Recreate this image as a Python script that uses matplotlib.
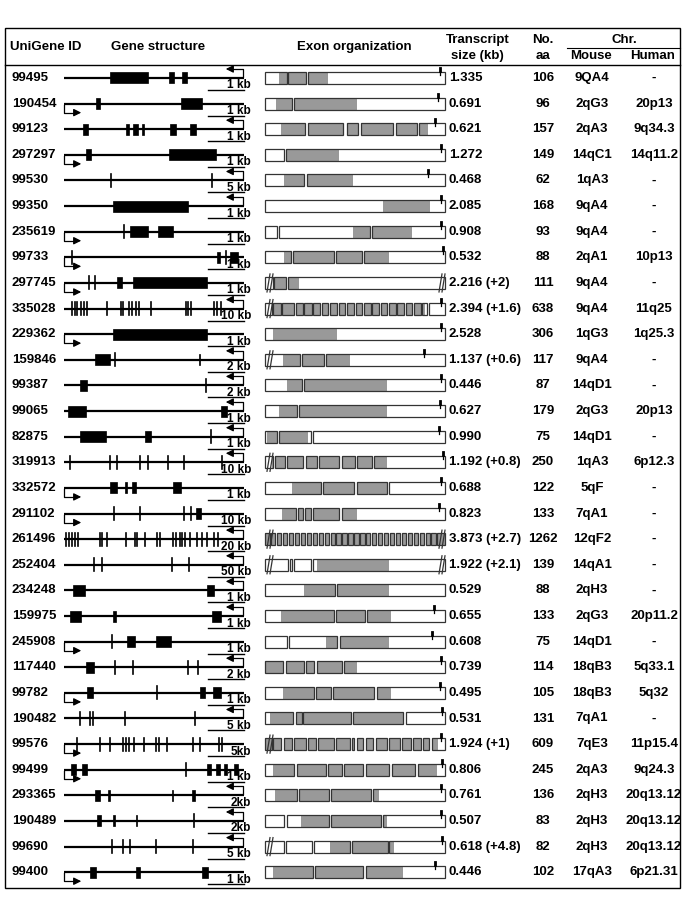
import matplotlib
matplotlib.use('Agg')
import matplotlib.pyplot as plt
from matplotlib.patches import Rectangle

plt.rcParams['font.family'] = ['Liberation Sans', 'DejaVu Sans']
plt.rcParams['font.weight'] = 'bold'

# ---- data ----
unigene_ids = ['99495', '190454', '99123', '297297', '99530', '99350', '235619', '99733',
               '297745', '335028', '229362', '159846', '99387', '99065', '82875', '319913',
               '332572', '291102', '261496', '252404', '234248', '159975', '245908', '117440',
               '99782', '190482', '99576', '99499', '293365', '190489', '99690', '99400']

transcript_size = ['1.335', '0.691', '0.621', '1.272', '0.468', '2.085', '0.908', '0.532',
                   '2.216 (+2)', '2.394 (+1.6)', '2.528', '1.137 (+0.6)', '0.446', '0.627',
                   '0.990', '1.192 (+0.8)', '0.688', '0.823', '3.873 (+2.7)', '1.922 (+2.1)',
                   '0.529', '0.655', '0.608', '0.739', '0.495', '0.531', '1.924 (+1)', '0.806',
                   '0.761', '0.507', '0.618 (+4.8)', '0.446']

n_aa = [106, 96, 157, 149, 62, 168, 93, 88, 111, 638, 306, 117, 87, 179, 75, 250,
        122, 133, 1262, 139, 88, 133, 75, 114, 105, 131, 609, 245, 136, 83, 82, 102]

chr_mouse = ['9QA4', '2qG3', '2qA3', '14qC1', '1qA3', '9qA4', '9qA4', '2qA1', '9qA4', '9qA4',
             '1qG3', '9qA4', '14qD1', '2qG3', '14qD1', '1qA3', '5qF', '7qA1', '12qF2', '14qA1',
             '2qH3', '2qG3', '14qD1', '18qB3', '18qB3', '7qA1', '7qE3', '2qA3', '2qH3', '2qH3',
             '2qH3', '17qA3']

chr_human = ['-', '20p13', '9q34.3', '14q11.2', '-', '-', '-', '10p13', '-', '11q25',
             '1q25.3', '-', '-', '20p13', '-', '6p12.3', '-', '-', '-', '-', '-', '20p11.2',
             '-', '5q33.1', '5q32', '-', '11p15.4', '9q24.3', '20q13.12', '20q13.12',
             '20q13.12', '6p21.31']

scale_labels = ['1 kb', '1 kb', '1 kb', '1 kb', '5 kb', '1 kb', '1 kb', '1 kb', '1 kb', '10 kb',
                '1 kb', '2 kb', '2 kb', '1 kb', '1 kb', '10 kb', '1 kb', '10 kb', '20 kb', '50 kb',
                '1 kb', '1 kb', '1 kb', '2 kb', '1 kb', '5 kb', '5kb', '1 kb', '2kb', '2kb',
                '5 kb', '1 kb']

# F = transcription to the right, R = to the left
strand = ['R', 'F', 'R', 'F', 'R', 'R', 'F', 'F', 'F', 'R', 'F', 'R', 'R', 'R', 'R', 'R',
          'F', 'F', 'R', 'R', 'R', 'R', 'F', 'R', 'F', 'R', 'F', 'F', 'R', 'R', 'R', 'F']

# exons on the genomic line (fraction of line); single numbers are thin exons
gene_exons = [
    [(0.254, 0.469), (0.583, 0.611), (0.657, 0.685)],
    [(0.176, 0.2), (0.648, 0.765)],
    [(0.107, 0.133), (0.343, 0.361), (0.385, 0.411), (0.435, 0.444), (0.589, 0.62), (0.698, 0.731)],
    [(0.12, 0.152), (0.583, 0.843)],
    [0.26, 0.824],
    [(0.272, 0.691)],
    [0.331, (0.367, 0.467), (0.522, 0.604)],
    [0.047, (0.852, 0.867), 0.9, (0.922, 0.969)],
    [0.14, 0.173, (0.293, 0.32), (0.385, 0.796)],
    [0.046, 0.059, 0.074, 0.093, 0.111, 0.13, 0.237, 0.315, 0.328, 0.359, 0.38, 0.398, 0.417,
     0.485, 0.676, 0.691, 0.707, 0.833, 0.852, 0.874],
    [(0.272, 0.796)],
    [(0.172, 0.256), 0.285, (0.748, 0.756)],
    [(0.089, 0.126), 0.787],
    [(0.022, 0.124), (0.874, 0.904)],
    [(0.089, 0.231), (0.45, 0.481), 0.815],
    [0.033, 0.254, 0.296, 0.422, 0.467, 0.58, 0.667, 0.876],
    [(0.256, 0.296), (0.337, 0.352), (0.38, 0.398), (0.607, 0.648)],
    [0.278, 0.422, 0.667, 0.707, (0.731, 0.759)],
    [0.013, 0.028, 0.043, 0.059, 0.078, 0.198, 0.209, 0.237, 0.346, 0.393, 0.407, 0.448, 0.519,
     0.531, 0.606, 0.62, 0.643, 0.657, 0.672, 0.698, 0.737, 0.765, 0.796, 0.833, 0.857],
    [0.167, 0.213, 0.602, 0.694],
    [(0.052, 0.115), (0.796, 0.833)],
    [(0.033, 0.093), (0.274, 0.291), (0.82, 0.87)],
    [0.266, (0.352, 0.393), (0.513, 0.593)],
    [(0.12, 0.167), 0.285, 0.385, 0.691, 0.744],
    [(0.126, 0.159), 0.519, (0.754, 0.783), (0.83, 0.87)],
    [0.089, 0.144, 0.159, 0.339, 0.726],
    [0.074, 0.198, 0.256, 0.328, 0.343, 0.361, 0.389, 0.444, 0.513, 0.528, 0.574, 0.719, 0.754,
     0.861, 0.876],
    [(0.041, 0.065), (0.102, 0.126), 0.676, (0.796, 0.815), (0.846, 0.865), (0.889, 0.907),
     (0.944, 0.969)],
    [(0.17, 0.2), (0.247, 0.256), (0.598, 0.606), (0.713, 0.728)],
    [(0.185, 0.204), (0.274, 0.283), (0.398, 0.407), 0.722],
    [0.265, 0.328, 0.365, 0.511, 0.719],
    [(0.144, 0.18), (0.402, 0.42), (0.765, 0.802)],
]

# exon boxes in the transcript (fraction of transcript bar)
exon_boxes = [
    [(0, 0.12), (0.13, 0.23), (0.24, 1)],
    [(0, 0.15), (0.163, 1)],
    [(0, 0.222), (0.237, 0.435), (0.454, 0.519), (0.531, 0.713), (0.728, 0.843), (0.857, 1)],
    [(0, 0.106), (0.117, 1)],
    [(0, 0.219), (0.231, 1)],
    [(0, 1)],
    [(0, 0.069), (0.08, 0.583), (0.596, 1)],
    [(0, 0.143), (0.154, 0.383), (0.394, 0.537), (0.55, 1)],
    [(0, 0.044), (0.05, 0.117), (0.13, 1)],
    [(0, 0.037), (0.046, 0.087), (0.093, 0.161), (0.172, 0.209), (0.219, 0.259), (0.269, 0.306),
     (0.315, 0.352), (0.361, 0.398), (0.409, 0.446), (0.457, 0.494), (0.504, 0.541), (0.55, 0.587),
     (0.596, 0.633), (0.643, 0.68), (0.689, 0.726), (0.735, 0.772), (0.781, 0.819), (0.828, 0.865),
     (0.874, 0.898), (0.913, 1)],
    [(0, 1)],
    [(0, 0.194), (0.204, 0.328), (0.339, 1)],
    [(0, 0.204), (0.219, 1)],
    [(0, 0.18), (0.191, 1)],
    [(0, 0.069), (0.08, 0.254), (0.269, 1)],
    [(0, 0.046), (0.056, 0.111), (0.124, 0.213), (0.226, 0.291), (0.302, 0.413), (0.426, 0.5),
     (0.513, 0.593), (0.606, 1)],
    [(0, 0.309), (0.32, 0.494), (0.509, 0.676), (0.689, 1)],
    [(0, 0.172), (0.181, 0.213), (0.222, 0.254), (0.269, 0.413), (0.426, 1)],
    [(0, 0.026), (0.034, 0.058), (0.067, 0.091), (0.1, 0.124), (0.133, 0.157), (0.166, 0.19),
     (0.199, 0.223), (0.232, 0.256), (0.265, 0.289), (0.298, 0.322), (0.331, 0.355), (0.364, 0.388),
     (0.397, 0.421), (0.43, 0.454), (0.463, 0.487), (0.496, 0.52), (0.529, 0.553), (0.562, 0.586),
     (0.595, 0.619), (0.628, 0.652), (0.661, 0.685), (0.694, 0.718), (0.727, 0.751), (0.76, 0.784),
     (0.793, 0.817), (0.826, 0.85), (0.859, 0.883), (0.892, 0.916), (0.925, 0.949), (0.958, 1)],
    [(0, 0.13), (0.139, 0.152), (0.163, 0.254), (0.269, 1)],
    [(0, 0.389), (0.402, 1)],
    [(0, 0.383), (0.394, 0.556), (0.569, 1)],
    [(0, 0.12), (0.135, 0.402), (0.417, 1)],
    [(0, 0.102), (0.117, 0.217), (0.228, 0.272), (0.287, 0.426), (0.439, 1)],
    [(0, 0.272), (0.283, 0.365), (0.38, 0.606), (0.62, 1)],
    [(0, 0.157), (0.172, 0.204), (0.213, 0.476), (0.487, 0.769), (0.781, 1)],
    [(0, 0.037), (0.046, 0.087), (0.106, 0.148), (0.161, 0.228), (0.241, 0.281), (0.296, 0.383),
     (0.394, 0.472), (0.483, 0.494), (0.509, 0.546), (0.561, 0.602), (0.615, 0.676), (0.689, 0.75),
     (0.763, 0.809), (0.824, 0.865), (0.88, 0.913), (0.926, 1)],
    [(0, 0.163), (0.176, 0.337), (0.348, 0.426), (0.441, 0.546), (0.559, 0.691), (0.704, 0.833),
     (0.848, 1)],
    [(0, 0.176), (0.189, 0.356), (0.367, 0.587), (0.598, 1)],
    [(0, 0.107), (0.12, 0.356), (0.367, 0.643), (0.654, 1)],
    [(0, 0.106), (0.117, 0.263), (0.274, 0.472), (0.485, 0.681), (0.69, 1)],
    [(0, 0.269), (0.278, 0.546), (0.561, 1)],
]

# coding region (grey) in the transcript bar
cds = [(0.08, 0.35), (0.06, 0.51), (0.087, 0.907), (0.117, 0.411), (0.107, 0.491), (0.657, 0.917),
       (0.491, 0.815), (0.107, 0.689), (0.05, 0.191), (0.04, 0.89), (0.043, 0.402), (0.098, 0.472),
       (0.12, 0.68), (0.078, 0.68), (0.013, 0.241), (0.04, 0.68), (0.148, 0.676), (0.093, 0.513),
       (0.0, 1.0), (0.291, 0.691), (0.217, 0.691), (0.089, 0.7), (0.337, 0.691), (0.0, 0.513),
       (0.102, 0.698), (0.028, 0.769), (0.0, 0.963), (0.046, 0.957), (0.056, 0.633), (0.198, 0.676),
       (0.361, 0.717), (0.043, 0.769)]

stop_codon = [0.97, 0.96, 0.944, 0.978, 0.904, 0.98, 0.98, 0.987, None, 0.98, 0.978, 0.885,
              0.978, 0.972, 0.967, 0.987, 0.978, 0.967, None, None, None, 0.939, 0.93, 0.98,
              0.972, 0.985, 0.98, 0.985, 0.98, 0.98, 0.985, 0.944]

# '//' breaks in the transcript bar: L = left end, R = right end
breaks = ['', '', '', '', '', '', '', '', 'LR', 'L', '', 'L', '', '', '', 'L',
          '', '', 'LR', 'LR', '', '', '', '', '', '', 'L', '', '', '', 'L', '']

# ---- layout (pixels) ----
fig = plt.figure(figsize=(6.85, 9.13), dpi=100)
ax = fig.add_axes([0, 0, 1, 1])
ax.set_xlim(0, 685)
ax.set_ylim(913, 0)
ax.axis('off')

FS = 9.5
GX0, GX1 = 64, 244
TX0, TX1 = 265, 445
ROW0, ROWSTEP = 78, 25.62
GREY = '#999999'

# frame and header
ax.add_patch(Rectangle((5, 28), 675, 860, fill=False, lw=1.0, ec='k'))
ax.plot([5, 680], [65, 65], color='k', lw=1.0)
ax.plot([567, 680], [48, 48], color='k', lw=0.8)
ax.text(10, 47, 'UniGene ID', fontsize=FS, va='center', ha='left')
ax.text(158, 47, 'Gene structure', fontsize=FS, va='center', ha='center')
ax.text(354, 47, 'Exon organization', fontsize=FS, va='center', ha='center')
ax.text(478, 40, 'Transcript', fontsize=FS, va='center', ha='center')
ax.text(477, 56, 'size (kb)', fontsize=FS, va='center', ha='center')
ax.text(543, 40, 'No.', fontsize=FS, va='center', ha='center')
ax.text(543, 56, 'aa', fontsize=FS, va='center', ha='center')
ax.text(624, 40, 'Chr.', fontsize=FS, va='center', ha='center')
ax.text(591, 56, 'Mouse', fontsize=FS, va='center', ha='center')
ax.text(653, 56, 'Human', fontsize=FS, va='center', ha='center')


def gx(f):
    return GX0 + f * (GX1 - GX0)


def tx(f):
    return TX0 + f * (TX1 - TX0)


for i, uid in enumerate(unigene_ids):
    y = ROW0 + i * ROWSTEP

    ax.text(12, y, uid, fontsize=FS, va='center', ha='left')
    ax.text(449, y, transcript_size[i], fontsize=FS, va='center', ha='left')
    ax.text(543, y, str(n_aa[i]), fontsize=FS, va='center', ha='center')
    ax.text(592, y, chr_mouse[i], fontsize=FS, va='center', ha='center')
    ax.text(654, y, chr_human[i], fontsize=FS, va='center', ha='center')

    # gene structure
    ax.plot([GX0, GX1], [y, y], color='k', lw=1.6, solid_capstyle='butt', zorder=2)
    for ex in gene_exons[i]:
        if isinstance(ex, tuple):
            ax.add_patch(Rectangle((gx(ex[0]), y - 5.5), gx(ex[1]) - gx(ex[0]), 11,
                                   fc='k', ec='k', lw=0.5, zorder=3))
        else:
            ax.plot([gx(ex), gx(ex)], [y - 6.5, y + 6.5], color='k', lw=1.2, zorder=3)

    # transcription start arrow
    if strand[i] == 'F':
        ax.plot([GX0, GX0, 76], [y + 1, y + 9, y + 9], color='k', lw=0.9, zorder=3)
        ax.annotate('', xy=(84, y + 9), xytext=(74, y + 9),
                    arrowprops=dict(arrowstyle='-|>', color='k', lw=0.9, mutation_scale=11))
    else:
        ax.plot([GX1 - 1, GX1 - 1, 231], [y - 1, y - 9, y - 9], color='k', lw=0.9, zorder=3)
        ax.annotate('', xy=(223, y - 9), xytext=(233, y - 9),
                    arrowprops=dict(arrowstyle='-|>', color='k', lw=0.9, mutation_scale=11))

    # scale bar
    ax.plot([208, 244], [y + 12, y + 12], color='k', lw=1.0)
    ax.text(251, y + 7.5, scale_labels[i], fontsize=8.5, va='center', ha='right')

    # transcript / exon organization
    cs, ce = cds[i]
    for a, b in exon_boxes[i]:
        ax.add_patch(Rectangle((tx(a), y - 6), tx(b) - tx(a), 12, fc='white', ec='none', zorder=2))
        ga, gb = max(a, cs), min(b, ce)
        if gb > ga:
            ax.add_patch(Rectangle((tx(ga), y - 6), tx(gb) - tx(ga), 12, fc=GREY, ec='none', zorder=3))
        ax.add_patch(Rectangle((tx(a), y - 6), tx(b) - tx(a), 12, fill=False, ec='#333333',
                               lw=0.9, zorder=4))

    if stop_codon[i] is not None:
        sx = tx(stop_codon[i])
        ax.plot([sx, sx], [y - 10, y - 3], color='k', lw=0.9, zorder=5)
        ax.plot([sx, sx], [y - 10, y - 7], color='k', lw=2.0, zorder=5)

    for side in breaks[i]:
        bx = TX0 + 2 if side == 'L' else TX1 - 6
        for dx in (0, 3):
            ax.plot([bx + dx, bx + dx + 3], [y + 9, y - 9], color='#333333', lw=0.9, zorder=6)

fig.savefig('out.png', dpi=100)
